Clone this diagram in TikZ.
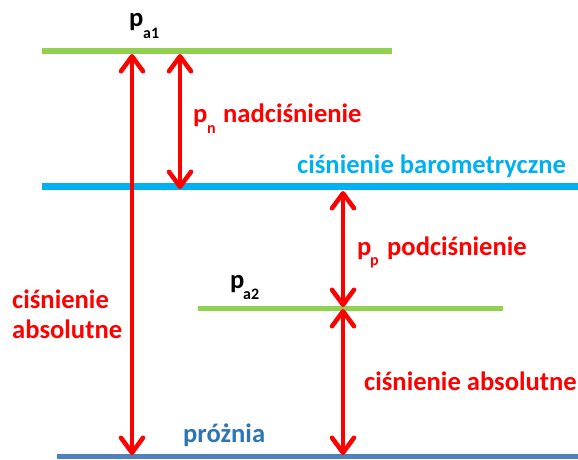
\documentclass[tikz,border=0pt]{standalone}
\usepackage{fontspec}
\setmainfont{Carlito}
\usetikzlibrary{arrows.meta}
\definecolor{lgreen}{HTML}{92D050}
\definecolor{cyanb}{HTML}{00B0F0}
\definecolor{steel}{HTML}{4F81BD}
\definecolor{tblue}{HTML}{2E75B6}
\begin{document}
\begin{tikzpicture}[x=1pt,y=-1pt,
  parr/.style={red, line width=4.5pt,
    {Straight Barb[round,length=15pt,width=22pt]}-{Straight Barb[round,length=15pt,width=22pt]}},
  lbl/.style={font=\bfseries\fontsize{26.6}{30}\selectfont, anchor=base west, inner sep=0pt},
  sub/.style={font=\bfseries\fontsize{16}{18}\selectfont, anchor=base west, inner sep=0pt}]
\useasboundingbox (0,0) rectangle (578,459);
% levels
\coordinate (g1a) at (42,51);   \coordinate (g1b) at (392,51);
\coordinate (ba) at (42,186.5); \coordinate (bb) at (578,186.5);
\coordinate (g2a) at (198,308); \coordinate (g2b) at (503,308);
\coordinate (va) at (57,456.5); \coordinate (vb) at (578,456.5);
\draw[lgreen, line width=5.5pt] (g1a) -- (g1b);
\draw[cyanb, line width=7pt] (ba) -- (bb);
\draw[lgreen, line width=5pt] (g2a) -- (g2b);
\draw[steel, line width=5pt] (va) -- (vb);
% arrows
\coordinate (a1t) at (132,54);  \coordinate (a1b) at (132,455);
\coordinate (a2t) at (180,54);  \coordinate (a2b) at (180,189);
\coordinate (a3t) at (343,191); \coordinate (a3b) at (343,307);
\coordinate (a4t) at (343,309); \coordinate (a4b) at (343,455);
\draw[parr] (a1t) -- (a1b);
\draw[parr] (a2t) -- (a2b);
\draw[parr] (a3t) -- (a3b);
\draw[parr] (a4t) -- (a4b);
% labels
\node[lbl] (pa1) at (129,26) {p};
\node[sub] (pa1s) at (143,38) {a1};
\node[lbl, red] (pn) at (193,122) {p};
\node[sub, red] (pns) at (207,133) {n};
\node[lbl, red] (nad) at (223,122) {nadciśnienie};
\node[lbl, cyanb] (bar) at (297,173) {ciśnienie barometryczne};
\node[lbl] (pa2) at (230,288) {p};
\node[sub] (pa2s) at (243,299) {a2};
\node[lbl, red] (pp) at (357,255) {p};
\node[sub, red] (pps) at (370,265) {p};
\node[lbl, red] (pod) at (387,255) {podciśnienie};
\node[lbl, red] (absl1) at (12,308) {ciśnienie};
\node[lbl, red] (absl2) at (12,338) {absolutne};
\node[lbl, red] (absr) at (364,390) {ciśnienie absolutne};
\node[lbl, tblue] (proz) at (183,442) {próżnia};
\end{tikzpicture}
\end{document}
